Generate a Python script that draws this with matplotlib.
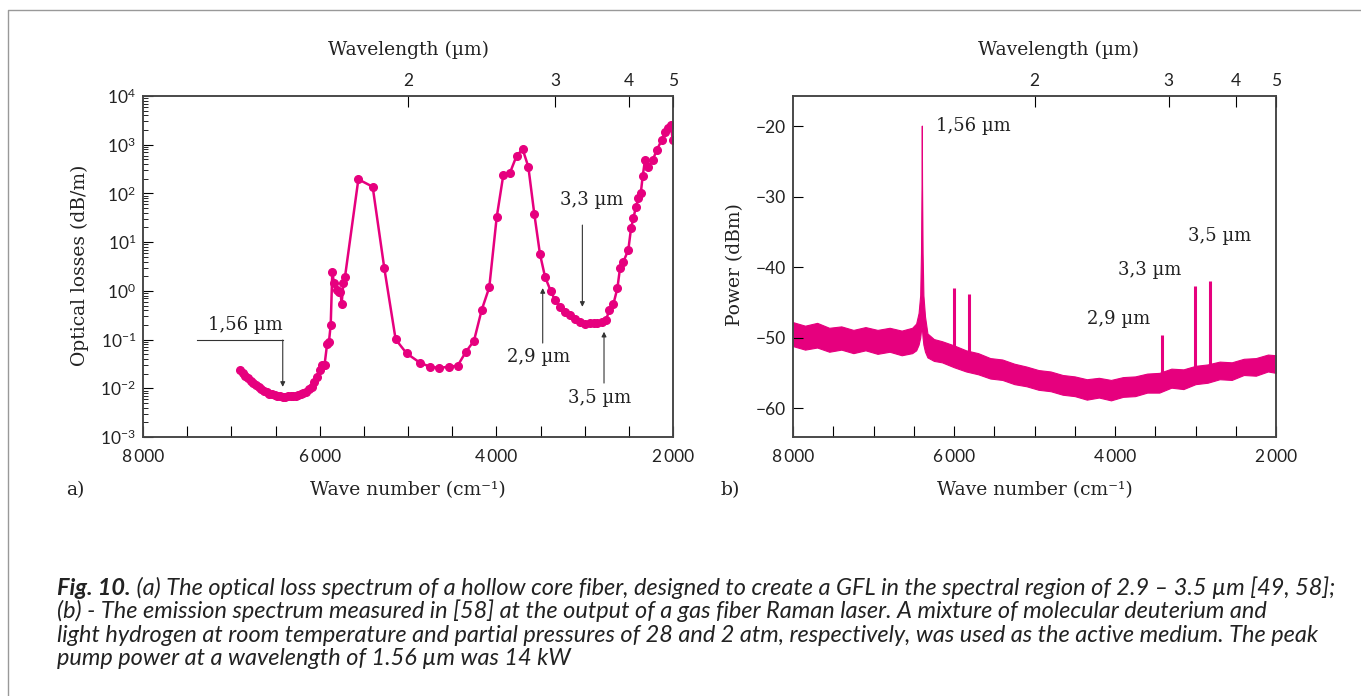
import numpy as np
import matplotlib.pyplot as plt
from matplotlib.ticker import FixedLocator, LogLocator, NullFormatter, FuncFormatter
from matplotlib.lines import Line2D

# (a) optical loss spectrum, wave number (cm-1) vs loss (dB/m)
loss_wn = [6902, 6870, 6840, 6810, 6780, 6750, 6720, 6690, 6660, 6630, 6600, 6570,
           6540, 6510, 6480, 6450, 6420, 6393, 6360, 6330, 6300, 6270, 6240, 6210,
           6185, 6150, 6120, 6090, 6060, 6034, 6000, 5977, 5945, 5915, 5895, 5875,
           5857, 5838, 5808, 5780, 5765, 5751, 5732, 5713, 5562, 5400, 5268, 5140,
           5015, 4864, 4751, 4646, 4532, 4438, 4344, 4253, 4166, 4080, 3996, 3921,
           3845, 3770, 3702, 3638, 3570, 3506, 3449, 3385, 3336, 3280, 3223, 3166,
           3109, 3053, 2996, 2940, 2900, 2864, 2808, 2759, 2721, 2676, 2630, 2600,
           2562, 2506, 2475, 2449, 2419, 2392, 2365, 2343, 2317, 2279, 2229, 2184,
           2127, 2090, 2053, 2025, 2003]
loss_db = [0.0237, 0.0205, 0.018, 0.016, 0.0143, 0.0128, 0.0115, 0.0105, 0.0096, 0.0089,
           0.0083, 0.0078, 0.0075, 0.0072, 0.007, 0.0068, 0.0067, 0.0067, 0.0068, 0.0069,
           0.007, 0.0071, 0.0073, 0.0076, 0.0079, 0.0085, 0.0095, 0.0107, 0.0135, 0.0174,
           0.024, 0.030, 0.030, 0.083, 0.09, 0.2, 2.47, 1.43, 1.04, 0.96, 0.93, 0.55, 1.43,
           1.95, 195, 137, 2.9, 0.101, 0.052, 0.0334, 0.0277, 0.0263, 0.0277, 0.0291,
           0.0562, 0.0944, 0.404, 1.18, 32.3, 239, 267, 596, 804, 354, 37.8, 5.7, 1.95,
           1.0, 0.647, 0.472, 0.374, 0.318, 0.26, 0.225, 0.208, 0.215, 0.215, 0.215,
           0.225, 0.251, 0.404, 0.528, 1.12, 2.9, 3.96, 6.9, 19.2, 30.8, 53.3, 79.4,
           100, 227, 485, 354, 485, 778, 1250, 1850, 2170, 2540, 1250]

# (b) emission spectrum: noise band (upper / lower edge, dBm) and Raman lines
band_wn = [8000, 7850, 7700, 7550, 7400, 7250, 7100, 6950, 6800, 6650, 6520, 6470,
           6440, 6420, 6410, 6403, 6400, 6397, 6390, 6380, 6360, 6330, 6250, 6150,
           6000, 5850, 5700, 5550, 5400, 5250, 5100, 4950, 4800, 4650, 4500, 4350,
           4200, 4050, 3900, 3750, 3600, 3450, 3300, 3150, 3000, 2850, 2700, 2550,
           2400, 2250, 2100, 2000]
band_hi = [-47.8, -48.3, -47.9, -48.6, -48.4, -48.9, -48.5, -48.9, -48.6, -49.0, -48.6, -48.0,
           -46.5, -44.0, -38.0, -28.0, -19.9, -28.0, -38.0, -44.0, -47.0, -49.4, -50.2, -50.5,
           -51.1, -51.8, -52.2, -52.9, -53.1, -53.7, -54.1, -54.6, -54.8, -55.3, -55.5, -55.9,
           -55.7, -56.0, -55.6, -55.5, -55.1, -55.0, -54.4, -54.5, -54.0, -53.8, -53.4, -53.5,
           -53.0, -52.9, -52.4, -52.5]
band_lo = [-51.2, -51.7, -51.4, -52.0, -51.7, -52.2, -51.8, -52.3, -52.0, -52.5, -52.2, -51.8,
           -51.0, -50.0, -49.0, -48.5, -48.5, -49.0, -50.0, -51.0, -52.0, -52.8, -53.3, -53.5,
           -54.2, -54.8, -55.2, -55.8, -56.0, -56.6, -56.9, -57.4, -57.6, -58.1, -58.3, -58.8,
           -58.5, -58.9, -58.4, -58.3, -57.8, -57.8, -57.1, -57.3, -56.6, -56.4, -55.9, -56.0,
           -55.3, -55.4, -54.8, -55.0]
line_wn = [5996, 5814, 3420, 3006, 2820]
line_top = [-42.9, -43.8, -49.6, -42.7, -41.9]
line_base = [-51.5, -52.0, -55.0, -54.5, -54.0]

lam_ticks = [2, 3, 4, 5]
wn_ticks = [8000, 6000, 4000, 2000]

pink = '#e6007e'
serif = ['DejaVu Serif']
sans = ['Lato', 'DejaVu Sans']
W, H = 1361, 696


def px(x, y):
    return x / W, 1 - y / H


def wn_fmt(v, pos):
    if int(round(v)) in wn_ticks:
        s = '%d' % int(round(v))
        return s[:-3] + '\u2009' + s[-3:]
    return ''


fig = plt.figure(figsize=(W / 100, H / 100), dpi=100)
ax1 = fig.add_axes([143 / W, 1 - 437 / H, 530 / W, 341 / H])
ax2 = fig.add_axes([793 / W, 1 - 437 / H, 483 / W, 341 / H])

# panel a
ax1.plot(loss_wn, loss_db, '-o', color=pink, ms=5.5, lw=1.8, mec=pink)
ax1.set_yscale('log')
ax1.set_ylim(1e-3, 1e4)
ax1.yaxis.set_minor_locator(LogLocator(subs=np.arange(2, 10), numticks=20))
ax1.yaxis.set_minor_formatter(NullFormatter())
ax1.tick_params(axis='y', which='major', direction='in', length=7, pad=5, right=False)
ax1.tick_params(axis='y', which='minor', direction='in', length=3.5, right=False)

# panel b
ax2.fill_between(band_wn, band_lo, band_hi, color=pink, lw=0.8, edgecolor=pink)
ax2.vlines(line_wn, line_base, line_top, color=pink, lw=2.2)
ax2.set_ylim(-64.1, -15.7)
ax2.set_yticks([-60, -50, -40, -30, -20])
ax2.tick_params(axis='y', direction='in', length=7, pad=5, right=False)

for ax in (ax1, ax2):
    ax.set_xlim(8000, 2000)
    ax.xaxis.set_major_locator(FixedLocator(np.arange(2000, 8001, 500)))
    ax.xaxis.set_major_formatter(FuncFormatter(wn_fmt))
    ax.tick_params(axis='x', direction='in', length=8, pad=9, top=False)
    for sp in ax.spines.values():
        sp.set_color('#444')
        sp.set_linewidth(1.1)
    for lab in ax.get_xticklabels() + ax.get_yticklabels():
        lab.set_family(sans)
        lab.set_fontsize(12.5)
        lab.set_color('#222')
    top = ax.twiny()
    top.set_xlim(8000, 2000)
    top.set_xticks([1e4 / l for l in lam_ticks])
    top.set_xticklabels([str(l) for l in lam_ticks], family=sans, fontsize=12.5, color='#222')
    top.tick_params(axis='x', direction='in', length=8, pad=5)
    for sp in top.spines.values():
        sp.set_color('#444')
        sp.set_linewidth(1.1)

# annotations panel a
ac = '#333'
ax1.plot([7389, 6418], [0.098, 0.098], color=ac, lw=0.8)
arrows = [((6418, 0.098), (6418, 0.0107)),
          ((3026, 22.4), (3026, 0.47)),
          ((3475, 0.0848), (3475, 1.14)),
          ((2781, 0.0128), (2781, 0.1445))]
for start, end in arrows:
    ax1.annotate('', xy=end, xytext=start,
                 arrowprops=dict(arrowstyle='-|>', color=ac, lw=0.8, mutation_scale=7,
                                 shrinkA=0, shrinkB=0))
ann_kw = dict(family=serif, fontsize=13, color='#222', va='center')
for txt, x, y in [('1,56 µm', 6845, 0.2), ('3,3 µm', 2924, 73),
                  ('2,9 µm', 3525, 0.0444), ('3,5 µm', 2826, 0.0062)]:
    ax1.text(x, y, txt, ha='center', **ann_kw)

# annotations panel b
ax2.text(6224, -20.0, '1,56 µm', ha='left', **ann_kw)
for txt, x, y in [('2,9 µm', 3958, -47.3), ('3,3 µm', 3565, -40.45), ('3,5 µm', 2696, -35.6)]:
    ax2.text(x, y, txt, ha='center', **ann_kw)

# axis titles
lab_kw = dict(family=serif, fontsize=13.5, color='#222', ha='center', va='center')
fig.text(*px(408, 50), 'Wavelength (µm)', **lab_kw)
fig.text(*px(1058, 50), 'Wavelength (µm)', **lab_kw)
fig.text(*px(408, 490), 'Wave number (cm\u207b\u00b9)', **lab_kw)
fig.text(*px(1035, 490), 'Wave number (cm\u207b\u00b9)', **lab_kw)
fig.text(*px(80, 265), 'Optical losses (dB/m)', rotation=90, **lab_kw)
fig.text(*px(735, 265), 'Power (dBm)', rotation=90, **lab_kw)
fig.text(*px(75, 490), 'a)', **lab_kw)
fig.text(*px(730, 490), 'b)', **lab_kw)

# frame
fig.add_artist(Line2D([8 / W, 8 / W, 1], [0, 1 - 10 / H, 1 - 10 / H],
                      transform=fig.transFigure, color='#999', lw=1))

# caption
cap_kw = dict(family=['Lato', 'DejaVu Sans'], style='italic', fontsize=16.9, color='#222')
t0 = fig.text(*px(57, 595), 'Fig. 10.', weight='bold', va='baseline', **cap_kw)
ax1.annotate(' (a) The optical loss spectrum of a hollow core fiber, designed to create a GFL '
             'in the spectral region of 2.9 \u2013 3.5 µm [49, 58];',
             xy=(1, 0), xycoords=t0, va='bottom', ha='left', annotation_clip=False, **cap_kw)
cap_lines = ['(b) - The emission spectrum measured in [58] at the output of a gas fiber Raman '
             'laser. A mixture of molecular deuterium and',
             'light hydrogen at room temperature and partial pressures of 28 and 2 atm, '
             'respectively, was used as the active medium. The peak',
             'pump power at a wavelength of 1.56 µm was 14 kW']
for i, s in enumerate(cap_lines):
    fig.text(*px(57, 618.5 + 23.3 * i), s, va='baseline', **cap_kw)

fig.savefig('out.png', dpi=100)
